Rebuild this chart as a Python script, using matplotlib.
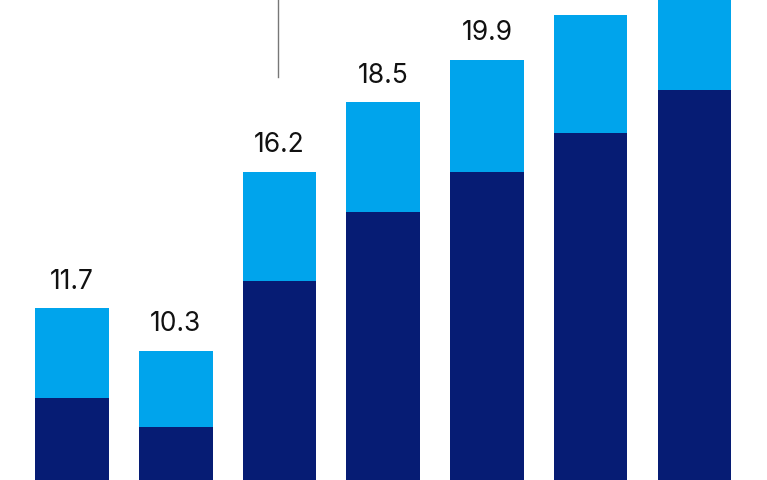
import numpy as np
import matplotlib.pyplot as plt

# values read from the (cropped) picture
totals = [11.7, 10.3, 16.2, 18.5, 19.9, 21.4, 22.5]
dark = [8.75, 7.8, 12.6, 14.9, 16.2, 17.5, 18.9]
light = [t - d for t, d in zip(totals, dark)]

dark_color = '#061C74'
light_color = '#00A4EC'

fig = plt.figure(figsize=(7.67, 4.8), dpi=100)
ax = fig.add_axes([0, 0, 1, 1])
x = np.arange(len(totals))
ax.bar(x, dark, 0.71, color=dark_color)
ax.bar(x, light, 0.71, bottom=dark, color=light_color)

for xi, t in zip(x, totals):
    ax.text(xi, t + 0.45, f'{t:.1f}', ha='center', va='bottom',
            fontsize=19, family=['Inter', 'DejaVu Sans'], color='#111111')

ax.plot([1.985, 1.985], [19.34, 22.5], color='#777777', linewidth=1)

ax.set_xlim(-0.694, 6.70)
ax.set_ylim(6.04, 21.88)
ax.axis('off')
fig.savefig('out.png', dpi=100)
